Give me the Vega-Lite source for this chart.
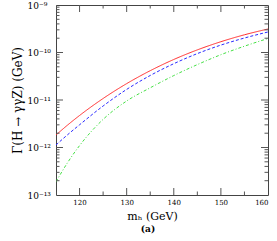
{
  "$schema": "https://vega.github.io/schema/vega-lite/v6.json",
  "width": 212,
  "height": 190,
  "autosize": {"type": "none"},
  "padding": {"left": 56, "top": 5, "right": 9, "bottom": 46},
  "background": "white",
  "config": {
    "view": {"stroke": "#444", "strokeWidth": 1},
    "font": "DejaVu Serif",
    "axis": {"domain": false, "grid": false, "ticks": true, "tickOpacity": 0}
  },
  "title": {"text": "(a)", "orient": "bottom", "fontSize": 9, "fontWeight": "bold", "font": "DejaVu Serif", "color": "#000", "dx": -14, "offset": 3},
  "datasets": {
    "curves": [
      {"m": 115, "g": 1.832e-12, "s": "a"},
      {"m": 117.5, "g": 2.992e-12, "s": "a"},
      {"m": 120, "g": 4.72e-12, "s": "a"},
      {"m": 125, "g": 1.076e-11, "s": "a"},
      {"m": 130, "g": 2.213e-11, "s": "a"},
      {"m": 135, "g": 4.14e-11, "s": "a"},
      {"m": 140, "g": 7.13e-11, "s": "a"},
      {"m": 145, "g": 1.135e-10, "s": "a"},
      {"m": 150, "g": 1.687e-10, "s": "a"},
      {"m": 155, "g": 2.36e-10, "s": "a"},
      {"m": 160, "g": 3.126e-10, "s": "a"},
      {"m": 115, "g": 1.13e-12, "s": "b"},
      {"m": 117.5, "g": 1.871e-12, "s": "b"},
      {"m": 120, "g": 3.006e-12, "s": "b"},
      {"m": 125, "g": 7.48e-12, "s": "b"},
      {"m": 130, "g": 1.671e-11, "s": "b"},
      {"m": 135, "g": 3.281e-11, "s": "b"},
      {"m": 140, "g": 5.81e-11, "s": "b"},
      {"m": 145, "g": 9.48e-11, "s": "b"},
      {"m": 150, "g": 1.432e-10, "s": "b"},
      {"m": 155, "g": 2.018e-10, "s": "b"},
      {"m": 160, "g": 2.704e-10, "s": "b"},
      {"m": 115, "g": 1.905e-13, "s": "c"},
      {"m": 117.5, "g": 4.875e-13, "s": "c"},
      {"m": 120, "g": 1.096e-12, "s": "c"},
      {"m": 125, "g": 3.908e-12, "s": "c"},
      {"m": 130, "g": 9.53e-12, "s": "c"},
      {"m": 135, "g": 1.807e-11, "s": "c"},
      {"m": 140, "g": 3.266e-11, "s": "c"},
      {"m": 145, "g": 5.56e-11, "s": "c"},
      {"m": 150, "g": 8.99e-11, "s": "c"},
      {"m": 155, "g": 1.358e-10, "s": "c"},
      {"m": 160, "g": 1.972e-10, "s": "c"}
    ],
    "xticks": [
      {"v": 115, "k": "minor"}, {"v": 120, "k": "major"}, {"v": 125, "k": "minor"},
      {"v": 130, "k": "major"}, {"v": 135, "k": "minor"}, {"v": 140, "k": "major"},
      {"v": 145, "k": "minor"}, {"v": 150, "k": "major"}, {"v": 155, "k": "minor"}
    ],
    "yticks": [
      {"v": 2e-13, "k": "minor"}, {"v": 3e-13, "k": "minor"}, {"v": 4e-13, "k": "minor"}, {"v": 5e-13, "k": "minor"},
      {"v": 6e-13, "k": "minor"}, {"v": 7e-13, "k": "minor"}, {"v": 8e-13, "k": "minor"}, {"v": 9e-13, "k": "minor"},
      {"v": 1e-12, "k": "major"},
      {"v": 2e-12, "k": "minor"}, {"v": 3e-12, "k": "minor"}, {"v": 4e-12, "k": "minor"}, {"v": 5e-12, "k": "minor"},
      {"v": 6e-12, "k": "minor"}, {"v": 7e-12, "k": "minor"}, {"v": 8e-12, "k": "minor"}, {"v": 9e-12, "k": "minor"},
      {"v": 1e-11, "k": "major"},
      {"v": 2e-11, "k": "minor"}, {"v": 3e-11, "k": "minor"}, {"v": 4e-11, "k": "minor"}, {"v": 5e-11, "k": "minor"},
      {"v": 6e-11, "k": "minor"}, {"v": 7e-11, "k": "minor"}, {"v": 8e-11, "k": "minor"}, {"v": 9e-11, "k": "minor"},
      {"v": 1e-10, "k": "major"},
      {"v": 2e-10, "k": "minor"}, {"v": 3e-10, "k": "minor"}, {"v": 4e-10, "k": "minor"}, {"v": 5e-10, "k": "minor"},
      {"v": 6e-10, "k": "minor"}, {"v": 7e-10, "k": "minor"}, {"v": 8e-10, "k": "minor"}, {"v": 9e-10, "k": "minor"}
    ]
  },
  "layer": [
    {
      "data": {"name": "curves"},
      "mark": {"type": "line", "strokeWidth": 1, "interpolate": "monotone", "clip": true},
      "encoding": {
        "x": {
          "field": "m", "type": "quantitative",
          "scale": {"domain": [115, 160], "nice": false, "zero": false},
          "axis": {
            "orient": "bottom", "offset": -7, "tickSize": 7,
            "values": [120, 130, 140, 150, 160],
            "labelFont": "DejaVu Serif", "labelFontSize": 7, "labelColor": "#000",
            "labelPadding": 3.5, "labelOverlap": false,
            "title": "mₕ (GeV)", "titleFont": "DejaVu Serif", "titleFontSize": 11,
            "titleFontWeight": "normal", "titleColor": "#000", "titlePadding": 5,
            "titleX": 96
          }
        },
        "y": {
          "field": "g", "type": "quantitative",
          "scale": {"type": "log", "domain": [1e-13, 1e-9], "nice": false},
          "axis": {
            "orient": "left", "offset": -7, "tickSize": 7,
            "values": [1e-13, 1e-12, 1e-11, 1e-10, 1e-9],
            "labelExpr": "datum.value > 9.5e-10 ? '10⁻⁹' : datum.value > 9.5e-11 ? '10⁻¹⁰' : datum.value > 9.5e-12 ? '10⁻¹¹' : datum.value > 9.5e-13 ? '10⁻¹²' : '10⁻¹³'",
            "labelFont": "DejaVu Serif", "labelFontSize": 9, "labelColor": "#000",
            "labelAlign": "left", "labelPadding": 29, "labelOverlap": false, "labelBound": false,
            "title": "Γ(H → γγZ) (GeV)", "titleFont": "DejaVu Serif", "titleFontSize": 12,
            "titleFontWeight": "normal", "titleColor": "#000", "titlePadding": 3
          }
        },
        "color": {
          "field": "s", "type": "nominal",
          "scale": {"domain": ["a", "b", "c"], "range": ["#ff2a2a", "#2a2aff", "#44e044"]},
          "legend": null
        },
        "strokeDash": {
          "field": "s", "type": "nominal",
          "scale": {"domain": ["a", "b", "c"], "range": [[1, 0], [3, 2], [3, 2, 1, 2]]},
          "legend": null
        }
      }
    },
    {
      "data": {"name": "xticks"},
      "mark": {"type": "tick", "orient": "vertical", "thickness": 1, "color": "#555", "opacity": 1, "clip": true},
      "encoding": {
        "x": {"field": "v", "type": "quantitative", "axis": null},
        "y": {"datum": 1e-13, "type": "quantitative", "axis": null},
        "size": {"field": "k", "type": "nominal", "scale": {"domain": ["major", "minor"], "range": [14, 7]}, "legend": null}
      }
    },
    {
      "data": {"name": "xticks"},
      "mark": {"type": "tick", "orient": "vertical", "thickness": 1, "color": "#555", "opacity": 1, "clip": true},
      "encoding": {
        "x": {"field": "v", "type": "quantitative", "axis": null},
        "y": {"datum": 1e-9, "type": "quantitative", "axis": null},
        "size": {"field": "k", "type": "nominal", "scale": {"domain": ["major", "minor"], "range": [14, 7]}, "legend": null}
      }
    },
    {
      "data": {"name": "yticks"},
      "mark": {"type": "tick", "orient": "horizontal", "thickness": 1, "color": "#555", "opacity": 1, "clip": true},
      "encoding": {
        "y": {"field": "v", "type": "quantitative", "axis": null},
        "x": {"datum": 115, "type": "quantitative", "axis": null},
        "size": {"field": "k", "type": "nominal", "scale": {"domain": ["major", "minor"], "range": [14, 8]}, "legend": null}
      }
    },
    {
      "data": {"name": "yticks"},
      "mark": {"type": "tick", "orient": "horizontal", "thickness": 1, "color": "#555", "opacity": 1, "clip": true},
      "encoding": {
        "y": {"field": "v", "type": "quantitative", "axis": null},
        "x": {"datum": 160, "type": "quantitative", "axis": null},
        "size": {"field": "k", "type": "nominal", "scale": {"domain": ["major", "minor"], "range": [14, 8]}, "legend": null}
      }
    }
  ],
  "resolve": {"axis": {"x": "independent", "y": "independent"}}
}
